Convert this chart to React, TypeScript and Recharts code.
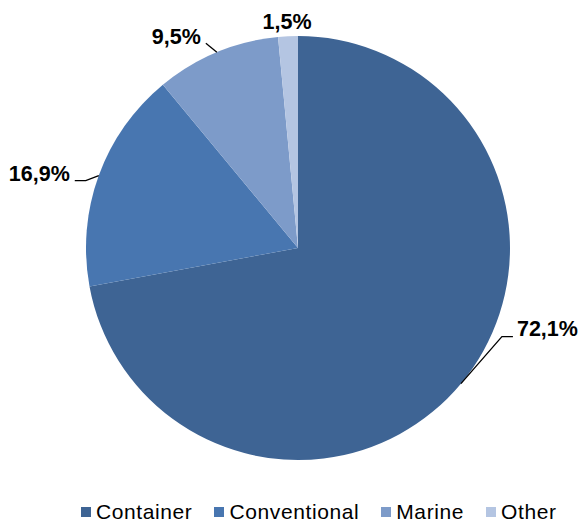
import React from 'react';
import { PieChart, Pie, Cell, Legend } from 'recharts';

const categories = ['Container', 'Conventional', 'Marine', 'Other'];
const shares = [72.1, 16.9, 9.5, 1.5];
const colors = ['#3E6494', '#4876B0', '#7D9BC9', '#B4C5E2'];

const data = categories.map((name, i) => ({ name, value: shares[i] }));

// label leader layout (offsets from slice edge point)
const labelLayout = [
  { dx: 41, dy: -47, hx: 11, anchor: 'start', tx: 4, ty: -1, line: true },
  { dx: -13, dy: 5, hx: -11, anchor: 'end', tx: -5, ty: 0, line: true },
  { dx: -11, dy: -9, hx: 0, anchor: 'end', tx: -5, ty: 1, line: true },
  { dx: -1, dy: -7, hx: 0, anchor: 'middle', tx: 0, ty: 0, line: false },
];

const RAD = Math.PI / 180;

const renderLabel = (props: any) => {
  const { cx, cy, midAngle, outerRadius, index, value } = props;
  const L = labelLayout[index];
  const x0 = cx + outerRadius * Math.cos(-midAngle * RAD);
  const y0 = cy + outerRadius * Math.sin(-midAngle * RAD);
  const ex = x0 + L.dx;
  const ey = y0 + L.dy;
  const hx = ex + L.hx;
  const text = value.toFixed(1).replace('.', ',') + '%';
  return (
    <g key={'lbl' + index}>
      {L.line && (
        <polyline
          points={`${x0},${y0} ${ex},${ey} ${hx},${ey}`}
          fill="none"
          stroke="#000"
          strokeWidth={1.3}
        />
      )}
      <text
        x={hx + L.tx}
        y={ey + L.ty}
        textAnchor={L.anchor}
        fontFamily="'Liberation Sans', Arial, sans-serif"
        fontWeight="bold"
        fontSize={21.5}
        fill="#000"
      >
        {text}
      </text>
    </g>
  );
};

const renderLegend = () => (
  <div
    style={{
      display: 'flex',
      alignItems: 'center',
      fontFamily: "'Liberation Sans', Arial, sans-serif",
      fontSize: 21,
      letterSpacing: 0.6,
      color: '#000',
      height: 24,
      whiteSpace: 'nowrap',
    }}
  >
    {categories.map((c, i) => (
      <div
        key={c}
        style={{ display: 'flex', alignItems: 'center', marginRight: i < categories.length - 1 ? 22 : 0 }}
      >
        <span
          style={{ display: 'inline-block', width: 10, height: 10, background: colors[i], marginRight: 5 }}
        />
        <span>{c}</span>
      </div>
    ))}
  </div>
);

export default function App() {
  return (
    <div style={{ position: 'absolute', left: 0, top: 0 }}>
      <PieChart width={578} height={524} margin={{ top: 0, right: 0, bottom: 0, left: 0 }}>
        <Pie
          data={data}
          dataKey="value"
          nameKey="name"
          cx={298}
          cy={248}
          outerRadius={212}
          startAngle={90}
          endAngle={-270}
          stroke="none"
          label={renderLabel}
          labelLine={false}
          isAnimationActive={false}
        >
          {data.map((d, i) => (
            <Cell key={d.name} fill={colors[i]} />
          ))}
        </Pie>
        <Legend
          content={renderLegend}
          verticalAlign="bottom"
          wrapperStyle={{ left: 81, bottom: 0, width: 'auto' }}
        />
      </PieChart>
    </div>
  );
}
